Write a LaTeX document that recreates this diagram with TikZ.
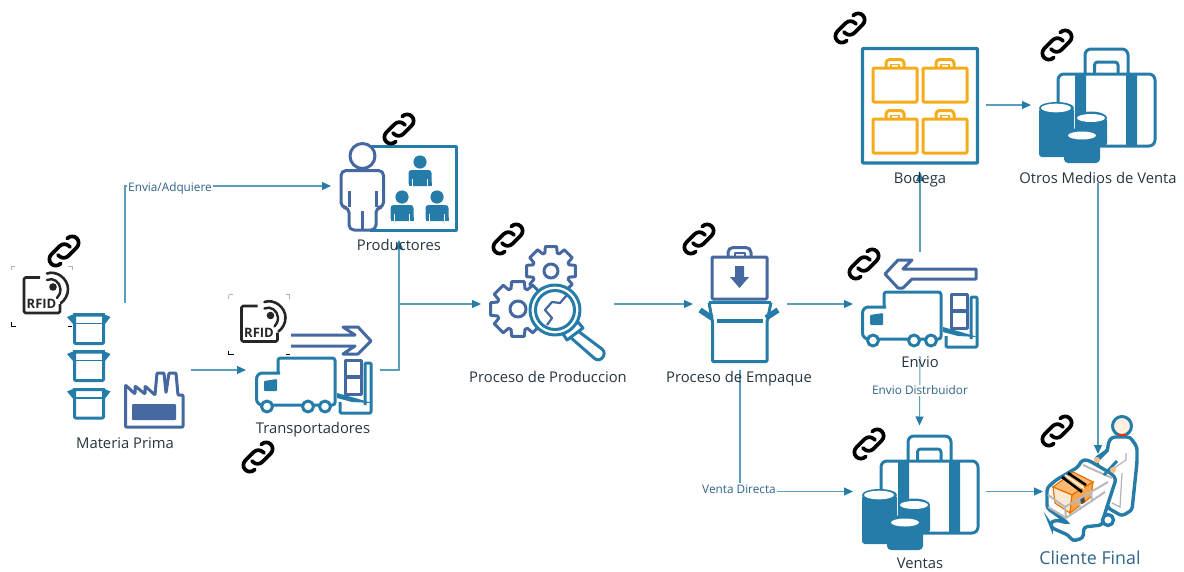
\documentclass[tikz,border=0pt]{standalone}
\usepackage{fontspec}
\setmainfont{Open Sans}
\usetikzlibrary{arrows.meta}
\definecolor{teal}{HTML}{267CA8}
\definecolor{slate}{HTML}{44689F}
\definecolor{linec}{HTML}{5A9DBD}
\definecolor{amber}{HTML}{F5AB1A}
\definecolor{txt}{HTML}{26343F}
\definecolor{clab}{HTML}{2F6488}
\tikzset{
  conn/.style={draw=linec,line width=1.05pt,-{Triangle[length=9pt,width=8pt,fill=teal,color=teal]}},
  frame/.style={draw=none,inner sep=0pt,outer sep=0pt,minimum width=#1},
  lab/.style={text=txt,font=\fontsize{14.8}{16}\selectfont,inner sep=0pt,anchor=base},
  clabel/.style={text=clab,font=\fontsize{11.8}{12}\selectfont,fill=white,inner sep=1pt,anchor=base},
  ts/.style={draw=teal,line width=3pt,line join=round},
  ss/.style={draw=slate,line width=3pt,line join=round},
  linkicon/.pic={
    \begin{scope}[rotate=45,draw=black,line width=3.7pt,line cap=round]
      \draw[rounded corners=6.5pt] (7,1.5) -- (7,-6.5) -- (-18,-6.5) -- (-18,6.5) -- (-11,6.5);
      \draw[rounded corners=6.5pt] (-7,-1.5) -- (-7,6.5) -- (18,6.5) -- (18,-6.5) -- (11,-6.5);
    \end{scope}
  },
  rfidicon/.pic={
    \draw[draw=black!85,line width=2.6pt,line join=round,rounded corners=1.5pt] (40,277.5) -- (24,277.5) -- (24,313) -- (60,313) -- (60,304);
    \fill[black!85] (53,287) circle[radius=3.8];
    \draw[black!85,line width=2.4pt,line cap=round] (47,280) .. controls (53,277) and (60,282) .. (60.5,289) .. controls (60.5,293) and (59,296) .. (57,298);
    \draw[black!85,line width=2.6pt,line cap=round] (47,273.5) .. controls (57,270) and (68,279) .. (68,289) .. controls (68,295) and (65,300) .. (61,303);
    \node[inner sep=0pt,text=black!85,font=\bfseries\fontsize{13}{13}\selectfont] at (41.5,304) {RFID};
    \draw[black!30,line width=.8pt] (11,270) -- (11,266) (68,266) -- (72,266) -- (72,270) (11,266) -- (15,266);
    \draw[black,line width=.9pt] (11,322) -- (11,326) -- (16,326) (68,326) -- (72,326);
  },
  cartonicon/.pic={
    \draw[ts,fill=white,rounded corners=1pt] (74.5,315) -- (74.5,343.5) -- (103.5,343.5) -- (103.5,315) -- cycle;
    \draw[teal,line width=1.6pt] (74,323.5) -- (104,323.5);
    \fill[teal] (67,317) -- (74,314) -- (76,324) -- (73,324) -- cycle;
    \fill[teal] (110.5,317) -- (103.5,314) -- (102,324) -- (105,324) -- cycle;
    \draw[ts] (73,314.5) -- (105,314.5);
  },
  truckicon/.pic={
    \draw[ts,rounded corners=2.5pt] (278,373) -- (278,358) -- (335,358) -- (335,405) -- (262,405);
    \draw[ts,rounded corners=6pt] (262,405) -- (256.5,405) -- (256.5,373) -- (280,373);
    \fill[teal,rounded corners=1pt] (264,381) -- (277,379) -- (277,391) -- (264,391) -- cycle;
    \foreach \c in {267,308,325} \draw[ts,fill=white] (\c,406.5) circle[radius=5.5];
    \draw[ss,fill=white] (345,360) rectangle (361,376.5);
    \draw[ss,fill=white] (345,377) rectangle (361,394);
    \draw[ts,rounded corners=1pt] (340,402) -- (340,413) -- (371,413) -- (371,363) -- (365,363) -- (365,405);
    \fill[teal] (337,393) -- (355,398) -- (372,403) -- (352,402) -- (337,398) -- cycle;
  },
  bagicon/.pic={
    \draw[draw=amber,line width=3pt,line join=round,rounded corners=1pt] (873,68) rectangle (917,102);
    \draw[draw=amber,line width=3pt,line join=round,rounded corners=3.5pt] (886,68) -- (886,59.5) -- (904,59.5) -- (904,68);
    \draw[draw=amber,line width=1.8pt] (891,68) -- (891,64.5) -- (899,64.5) -- (899,68);
  },
  caseicon/.pic={
    \draw[ts,rounded corners=6pt] (1085,73) -- (1085,49) -- (1128,49) -- (1128,73);
    \draw[ts,rounded corners=3pt] (1094.5,73) -- (1094.5,62) -- (1118,62) -- (1118,73);
    \draw[ts,rounded corners=6pt,fill=white] (1058,146) rectangle (1155,74);
    \fill[teal] (1075,74) rectangle (1086,146) (1126,74) rectangle (1137,146);
    \fill[teal,rounded corners=3pt] (1039,108) rectangle (1074,157);
    \fill[teal] (1056.5,108) ellipse[x radius=17.5,y radius=6];
    \fill[white] (1056,108) ellipse[x radius=15,y radius=4.3];
    \fill[teal,rounded corners=3pt] (1075,118) rectangle (1107,146);
    \fill[teal] (1091,118) ellipse[x radius=16,y radius=6.5];
    \fill[white] (1091,118) ellipse[x radius=14,y radius=4];
    \fill[teal,rounded corners=4pt] (1064,135) rectangle (1100,163);
    \fill[teal] (1082,135) ellipse[x radius=18,y radius=7];
    \fill[white] (1082,135.5) ellipse[x radius=14,y radius=4];
  }
}
\newcommand{\gearicon}[5]{% x y Router Rbody hole
  \begin{scope}[shift={(#1,#2)}]
    \draw[ss,fill=white] (-13:#3)
      \foreach \a in {0,45,...,315} { -- (\a-13:#3) -- (\a+13:#3) -- (\a+19:#4) -- (\a+26:#4) } -- cycle;
    \draw[ss] (0,0) circle[radius=#5];
  \end{scope}
}
\newcommand{\persona}[2]{% head x y
  \begin{scope}[shift={(#1,#2)}]
    \fill[teal] (0,0) circle[radius=6.6];
    \fill[teal,rounded corners=3pt] (-11.5,24) -- (-11.5,8) -- (11.5,8) -- (11.5,24) -- cycle;
    \fill[teal] (-11.5,20) rectangle (11.5,24);
    \draw[white,line width=.9pt] (-7.5,17) -- (-7.5,24) (7.5,17) -- (7.5,24);
  \end{scope}
}
\begin{document}
\begin{tikzpicture}[x=1pt,y=-1pt]
\useasboundingbox (0,0) rectangle (1184,571);

% --- invisible frames of each icon group: connectors run between them
\node[frame=132pt,minimum height=134pt] (materia) at (125,370) {};
\node[frame=134pt,minimum height=100pt] (transp) at (313,370) {};
\node[frame=136pt,minimum height=108pt] (prod) at (399,186) {};
\node[frame=133pt,minimum height=100pt] (proc) at (547.5,304) {};
\node[frame=94pt,minimum height=132pt] (emp) at (740,304) {};
\node[frame=134pt,minimum height=104pt] (envio) at (920,304) {};
\node[frame=132pt,minimum height=134pt] (bodega) at (920,105) {};
\node[frame=134pt,minimum height=156pt] (otros) at (1098,105) {};
\node[frame=133pt,minimum height=132pt] (ventas) at (919.5,491.5) {};
\node[frame=110pt,minimum height=75pt] (cliente) at (1098,491.5) {};
\coordinate (junc) at (transp.east -| prod.south);

% --- icons: Materia Prima
\pic at (0,0) {rfidicon};
\pic at (0,0) {cartonicon};
\pic at (0,37) {cartonicon};
\pic at (0,74.5) {cartonicon};
\draw[ss,fill=white,rounded corners=.8pt] (125.5,427) -- (125.5,385) -- (135,394) -- (135,386) -- (145,394) -- (145,386) -- (155,395) -- (157,373) -- (164,373) -- (166,393) -- (169,373) -- (176,373) -- (178,395) -- (183,395) -- (183,427) -- cycle;
\fill[slate,rounded corners=1pt] (132,404) rectangle (176,420);

% --- Transportadores
\pic at (217.5,28.5) {rfidicon};
\draw[ss,fill=white] (291,335) -- (355,335) -- (343,327) -- (358,327) -- (371,341) -- (358,354) -- (343,354) -- (355,346) -- (291,346);
\pic at (0,0) {truckicon};

% --- Productores
\draw[ts,fill=white] (370,146.5) -- (456.5,146.5) -- (456.5,230) -- (370,230);
\persona{420}{162}
\persona{402}{197}
\persona{437}{197}
\draw[ss,fill=white,rounded corners=5pt] (349,207.5) -- (341,207.5) -- (341,170.5) -- (383.5,170.5) -- (383.5,207.5) -- (376,207.5) -- (376,230) -- (349,230) -- cycle;
\draw[ss] (349,191) -- (349,207) (376,191) -- (376,207) (362.5,211) -- (362.5,230);
\draw[ss,fill=white] (362.5,156) circle[radius=12.5];

% --- Proceso de Produccion
\gearicon{551}{271}{25}{19}{7}
\gearicon{518}{309}{28}{21.5}{8}
\draw[ts,fill=white] (578,331) -- (602,349) .. controls (608,354) and (600,364) .. (594,358) -- (570,337) -- cycle;
\draw[ts,fill=white] (567,340) -- (563,334) -- (578,322) -- (583,328) -- cycle;
\draw[ts,fill=white] (555,310) circle[radius=25];
\draw[ts] (555,310) circle[radius=19.5];
\draw[ss,line width=2.2pt] (547,325) -- (552,318) -- (545,310) -- (552,302) -- (560,303) -- (567,295);

% --- Proceso de Empaque
\draw[ss,rounded corners=5pt] (728,257) -- (728,247.5) -- (751,247.5) -- (751,257);
\draw[ss,line width=2pt] (735,257) -- (735,252.5) -- (745,252.5) -- (745,257);
\draw[ss,rounded corners=1pt,fill=white] (712,299) -- (712,257) -- (767,257) -- (767,299) -- cycle;
\fill[slate] (735,266) -- (744,266) -- (744,277) -- (749,277) -- (739.5,288) -- (730,277) -- (735,277) -- cycle;
\draw[ts] (709,302.5) -- (771,302.5);
\draw[ts,rounded corners=1pt] (709,302.5) -- (712.5,322) -- (712.5,361.5) -- (767,361.5) -- (767,322) -- (771,302.5);
\draw[ts,line width=3.6pt] (717,321) -- (763,321);
\draw[teal,line width=5.5pt] (700,310) -- (712,318) (778,310) -- (766,318);

% --- Envio
\draw[ss,fill=white] (976,269) -- (976,279) -- (912,279) -- (903,288) -- (898,288) -- (885,274) -- (898,260) -- (912,260) -- (903,269) -- cycle;
\pic at (606,-66) {truckicon};

% --- Bodega
\draw[ts,line width=3.4pt,rounded corners=1pt] (862.5,48.5) rectangle (977.5,163);
\pic at (0,0) {bagicon};
\pic at (50,0) {bagicon};
\pic at (0,51) {bagicon};
\pic at (50,51) {bagicon};

% --- Otros Medios de Venta / Ventas
\pic at (0,0) {caseicon};
\pic at (-177,387) {caseicon};

% --- Cliente Final
\draw[ts,fill=white,line width=3.4pt,rounded corners=3pt] (1112,437) -- (1108,443) -- (1108,450) -- (1095,459) -- (1100,470) -- (1108,508) -- (1122,516) -- (1132,510) -- (1137,462) -- (1137,447) -- (1130,437) -- cycle;
\draw[black!30,line width=1.2pt] (1126,453) -- (1126,460) -- (1113,469) (1122,473) -- (1120,507) -- (1112,503);
\draw[teal,line width=3.4pt,fill=white,rounded corners=3pt] (1047,488) -- (1056,480) -- (1078,467) -- (1082,460) -- (1088,460) -- (1112,474) -- (1116,479) -- (1105,513) -- (1102,525) -- (1084,527) -- (1083,538) -- (1073,541) -- (1068,535) -- (1052,528) -- (1050,523) -- (1056,520) -- (1068,523) -- (1047,508) -- cycle;
\draw[ts,fill=white,line width=3.4pt] (1108,520) circle[radius=5.5];
\filldraw[draw=orange!90!black,fill=orange!55,line width=1.2pt] (1053,487) -- (1073,472) -- (1093,482) -- (1072,495) -- cycle;
\filldraw[draw=orange!90!black,fill=orange!18,line width=1.2pt] (1053,487) -- (1072,495) -- (1070,513) -- (1055,503) -- cycle;
\filldraw[draw=orange!90!black,fill=orange!70,line width=1.2pt] (1072,495) -- (1093,482) -- (1091,497) -- (1070,513) -- cycle;
\draw[black,line width=2.6pt] (1062,477) -- (1082,492) (1068,473) -- (1086,485);
\draw[white,line width=1.4pt] (1065,475) -- (1084,488.5);
\fill[black!70] (1080,498) -- (1084,496) -- (1085,502) -- (1081,504) -- cycle;
\fill[white] (1079,504) rectangle (1086,510);
\draw[black!28,line width=2pt,line join=round] (1048,507) -- (1066,518) -- (1105,492) (1048,495) -- (1065,507) -- (1108,482) (1083,465) -- (1112,478) (1065,507) -- (1066,518) (1079,499) -- (1080,510) (1091,491) -- (1092,502);
\draw[teal,line width=3pt] (1098,460) -- (1108,450) (1104,475) -- (1117,461);
\fill[orange!50] (1097,460) circle[radius=3] (1113,470) circle[radius=3];
\draw[ts,fill=orange!12,line width=3pt] (1122,426) circle[radius=9.5];
\draw[red!70!orange,line width=1.4pt] (1118,435) -- (1126,435);

% --- connectors
\draw[conn] (materia.north) |- (prod.west);
\node[clabel] (envialab) at (170,191) {Envia/Adquiere};
\draw[conn] (materia.east) -- (transp.west);
\draw[conn] (transp.east) -| (prod.south);
\draw[conn] (junc |- proc.west) -- (proc.west);
\draw[conn] (proc.east) -- (emp.west);
\draw[conn] (emp.east) -- (envio.west);
\draw[conn] (envio.north) -- (bodega.south);
\draw[conn] (bodega.east) -- (otros.west);
\draw[conn] (envio.south) -- (ventas.north);
\node[clabel] (envdlab) at (920,394.5) {Envio Distrbuidor};
\draw[conn] (emp.south) |- (ventas.west);
\node[clabel] (ventalab) at (739,493) {Venta Directa};
\draw[conn] (ventas.east) -- (cliente.west);
\draw[conn] (otros.south) -- (cliente.north);

% --- link icons
\foreach \n/\x/\y in {l1/64/251,l2/399/129,l3/508/239,l4/699/239,l5/864/264,l6/850/28,l7/1057/45,l8/258/457,l9/869/444,l10/1057/431}
  \pic (\n) at (\x,\y) {linkicon};

% --- labels
\node[lab] (tmat) at (125,448) {Materia Prima};
\node[lab] (ttra) at (313,433) {Transportadores};
\node[lab] (tpro) at (399,250) {Productores};
\node[lab] (tprc) at (548,382) {Proceso de Produccion};
\node[lab] (temp) at (739,382) {Proceso de Empaque};
\node[lab] (tenv) at (920,367) {Envio};
\node[lab] (tbod) at (920,183) {Bodega};
\node[lab] (totr) at (1098,183) {Otros Medios de Venta};
\node[lab] (tven) at (920,568.5) {Ventas};
\node[lab,text=clab,font=\fontsize{17.8}{18}\selectfont] (tcli) at (1090,564) {Cliente Final};
\end{tikzpicture}
\end{document}
